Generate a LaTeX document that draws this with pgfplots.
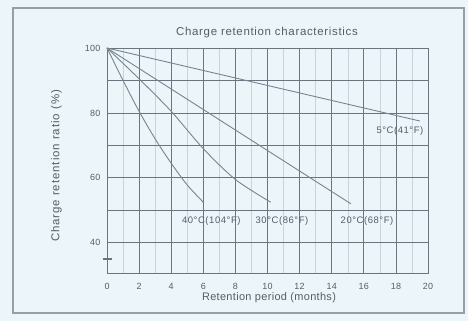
\documentclass[border=0pt]{standalone}
\usepackage{pgfplots}
\pgfplotsset{compat=1.18}
\usepackage{fontspec}
\setmainfont{Liberation Sans}
\newfontfamily\spaced[LetterSpace=6]{Liberation Sans}
\newfontfamily\spacedb[LetterSpace=3]{Liberation Sans}
\newfontfamily\spacedc[LetterSpace=8]{Liberation Sans}
\definecolor{bg}{RGB}{236,245,250}
\definecolor{gridc}{RGB}{105,118,128}
\definecolor{minorc}{RGB}{200,212,220}
\definecolor{curvec}{RGB}{120,132,142}
\definecolor{txt}{RGB}{85,93,102}
\begin{document}
\begin{tikzpicture}
\fill[bg] (0,0) rectangle (468bp,321bp);
\draw[gridc!70, line width=1.2bp] (13bp,8bp) rectangle (464bp,313bp);
\begin{axis}[
  at={(107bp,48bp)}, anchor=south west,
  scale only axis, width=321bp, height=225bp,
  xmin=0, xmax=20, ymin=30.7, ymax=100,
  xtick={0,2,...,20}, ytick={40,50,...,100},
  yticklabels={40,,60,,80,,100},
  ytick pos=left, xtick pos=bottom,
  minor x tick num=1,
  grid=major, minor x grid style={minorc, line width=0.5bp},
  xminorgrids=true,
  major grid style={gridc, line width=0.8bp},
  axis line style={gridc, line width=0.8bp},
  major tick length=0, minor tick length=0,
  /pgf/number format/assume math mode=true,
  ticklabel style={font=\spacedb\fontsize{9}{10}\selectfont, text=txt},
  xticklabel style={yshift=-7bp},
  yticklabel style={xshift=-3bp},
  extra y ticks={35}, extra y tick labels={},
  extra y tick style={grid=none, major tick length=9bp, tick align=center,
     tick style={gridc, line width=1.6bp}},
  clip=false,
]
\addplot[curvec, line width=0.9bp] coordinates {(0,100) (19.5,77.5)};
\addplot[curvec, line width=0.9bp] coordinates {(0,100) (15.2,52)};
\addplot[curvec, line width=0.9bp, smooth] coordinates {(0,100) (2,90.5) (4,80.5) (6,69) (8,59.5) (10.2,52.5)};
\addplot[curvec, line width=0.9bp, smooth] coordinates {(0,100) (1,90) (2,80.5) (3,72) (4,64.5) (5,57.8) (6,52.5)};
\node[text=txt, font=\spaced\fontsize{9.5}{11}\selectfont] at (axis cs:18.25,74.5) {5°C(41°F)};
\node[text=txt, font=\spaced\fontsize{9.5}{11}\selectfont] at (axis cs:6.5,46.8) {40°C(104°F)};
\node[text=txt, font=\spaced\fontsize{9.5}{11}\selectfont] at (axis cs:10.9,46.8) {30°C(86°F)};
\node[text=txt, font=\spaced\fontsize{9.5}{11}\selectfont] at (axis cs:16.2,46.8) {20°C(68°F)};
\end{axis}
\node[text=txt, font=\spaced\fontsize{11.5}{13}\selectfont] at (267bp,288bp) {Charge retention characteristics};
\node[text=txt, font=\spacedb\fontsize{11}{13}\selectfont] at (269bp,23bp) {Retention period (months)};
\node[text=txt, rotate=90, font=\spacedc\fontsize{11.5}{13}\selectfont] at (56.5bp,155bp) {Charge retention ratio (\%)};
\end{tikzpicture}
\end{document}
